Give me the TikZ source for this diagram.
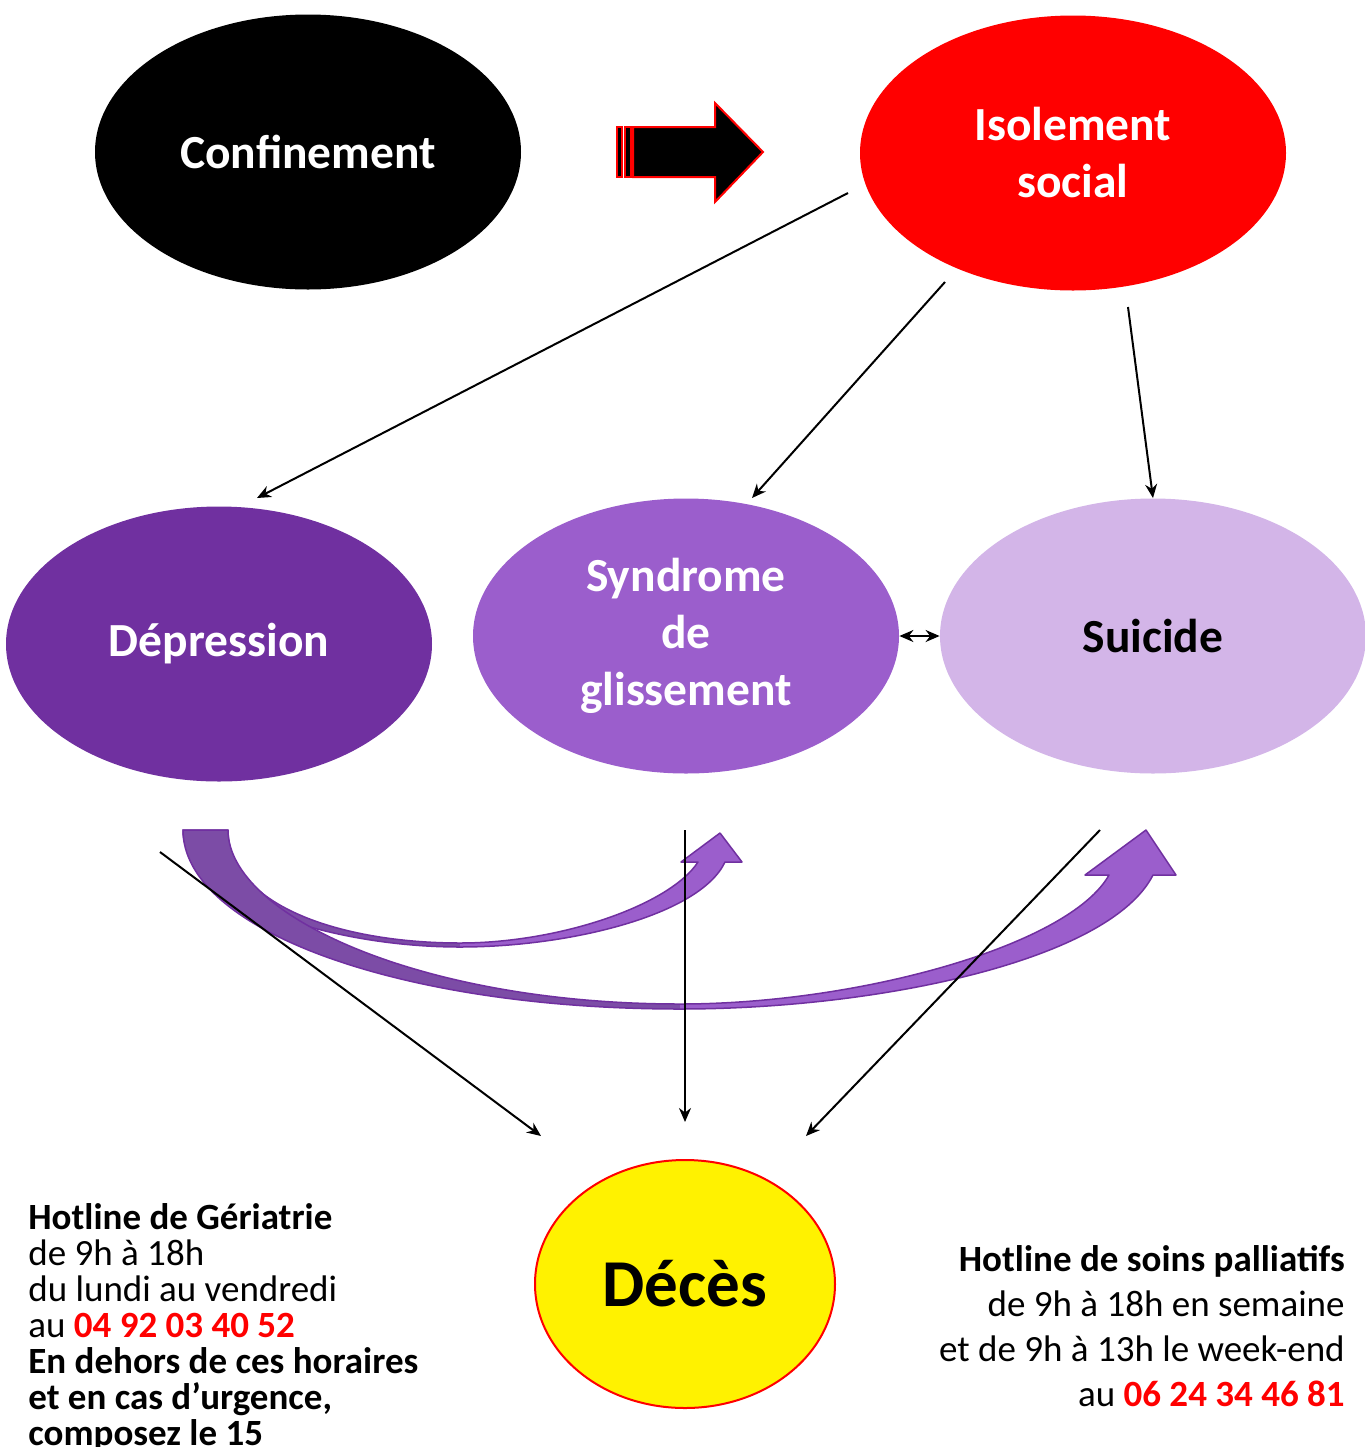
\documentclass[tikz,border=0pt]{standalone}
\usepackage{fontspec}
\setmainfont{Carlito}
\usepackage{xcolor}
\usepackage{tikz}
\usetikzlibrary{arrows.meta, shapes.geometric}

\definecolor{deprpurple}{RGB}{112,48,160}
\definecolor{synpurple}{RGB}{155,94,204}
\definecolor{suililac}{RGB}{211,181,232}
\definecolor{bandpurple}{RGB}{124,76,166}

\begin{document}
\begin{tikzpicture}[x=0.5pt, y=-0.5pt, >={Stealth[length=7pt,width=6pt]},
    bubble/.style={ellipse, inner sep=0pt, minimum width=213pt, minimum height=137.5pt, align=center, font=\fontsize{23.75}{28.5}\selectfont\bfseries},
    link/.style={->, line width=1pt},
    band/.style={draw=deprpurple, line width=0.75pt, line join=round}]
    \useasboundingbox (0,0) rectangle (1365,1447);

    % Nodes
    \node[bubble, fill=black, text=white] (conf) at (308,152) {Confinement};
    \node[bubble, fill=red, text=white] (iso) at (1073,153) {Isolement\\social};
    \node[bubble, fill=deprpurple, text=white] (dep) at (219,644) {Dépression};
    \node[bubble, fill=synpurple, text=white] (sgl) at (686,636) {Syndrome\\de\\glissement};
    \node[bubble, fill=suililac, text=black] (sui) at (1153,636) {Suicide};
    \node[ellipse, fill=yellow, draw=red, line width=1pt, inner sep=0pt, minimum width=150pt, minimum height=124pt, font=\fontsize{33.5}{40}\selectfont\bfseries] (deces) at (685,1284) {Décès};

    \node[anchor=north west, align=left, inner sep=0pt, font=\fontsize{18.5}{18}\selectfont] (hotger) at (28,1203) {\textbf{Hotline de Gériatrie}\\de 9h à 18h\\du lundi au vendredi\\au \textbf{\textcolor{red}{04 92 03 40 52}}\\\textbf{En dehors de ces horaires}\\\textbf{et en cas d’urgence,}\\\textbf{composez le 15}};
    \node[anchor=north east, align=right, inner sep=0pt, font=\fontsize{18.5}{22.5}\selectfont] (hotpal) at (1345,1245) {\textbf{Hotline de soins palliatifs}\\de 9h à 18h en semaine\\et de 9h à 13h le week-end\\au \textbf{\textcolor{red}{06 24 34 46 81}}};

    % Block arrow
    \draw[fill=black, draw=red, line width=1pt, line join=miter] (633,127) -- (715,127) -- (715,103) -- (763,152) -- (715,202) -- (715,177) -- (633,177) -- cycle;
    \draw[fill=black, draw=red, line width=1pt] (617,127) rectangle (622,177);
    \draw[fill=black, draw=red, line width=1pt] (625,127) rectangle (631,177);

    % Curved arrows (small one behind)
    \fill[bandpurple] (183,830) -- (228,830) .. controls (228,905) and (340,943) .. (460,943) -- (460,947) .. controls (330,947) and (183,900) .. (183,830) -- cycle;
    \fill[synpurple] (460,943) .. controls (560,943) and (670,905) .. (698,862) -- (681,862) -- (720,833) -- (742,862) -- (725,862) .. controls (700,915) and (570,947) .. (460,947) -- cycle;
    \draw[band] (183,830) -- (228,830) .. controls (228,905) and (340,943) .. (460,943) .. controls (560,943) and (670,905) .. (698,862) -- (681,862) -- (720,833) -- (742,862) -- (725,862) .. controls (700,915) and (570,947) .. (460,947) .. controls (330,947) and (183,900) .. (183,830) -- cycle;

    \fill[bandpurple] (183,830) -- (228,830) .. controls (228,915) and (420,1004) .. (680,1004) -- (680,1009) .. controls (400,1009) and (183,930) .. (183,830) -- cycle;
    \fill[synpurple] (680,1004) .. controls (860,1004) and (1070,945) .. (1109,875) -- (1085,875) -- (1146,830) -- (1176,875) -- (1153,875) .. controls (1110,960) and (880,1009) .. (680,1009) -- cycle;
    \draw[band] (183,830) -- (228,830) .. controls (228,915) and (420,1004) .. (680,1004) .. controls (860,1004) and (1070,945) .. (1109,875) -- (1085,875) -- (1146,830) -- (1176,875) -- (1153,875) .. controls (1110,960) and (880,1009) .. (680,1009) .. controls (400,1009) and (183,930) .. (183,830) -- cycle;

    % Arrows
    \coordinate (isoL) at (848,193);
    \coordinate (depT) at (257,498);
    \coordinate (isoB) at (945,282);
    \coordinate (sglT) at (752,498);
    \coordinate (isoR) at (1128,307);
    \coordinate (depB) at (160,852);
    \coordinate (decL) at (541,1136);
    \coordinate (sglB) at (685,830);
    \coordinate (decT) at (685,1122);
    \coordinate (suiB) at (1100,830);
    \coordinate (decR) at (806,1136);

    \draw[link] (isoL) -- (depT);
    \draw[link] (isoB) -- (sglT);
    \draw[link] (isoR) -- (sui.north);
    \draw[link, <->] (sgl.east) -- (sui.west);
    \draw[link] (depB) -- (decL);
    \draw[link] (sglB) -- (decT);
    \draw[link] (suiB) -- (decR);
\end{tikzpicture}
\end{document}
